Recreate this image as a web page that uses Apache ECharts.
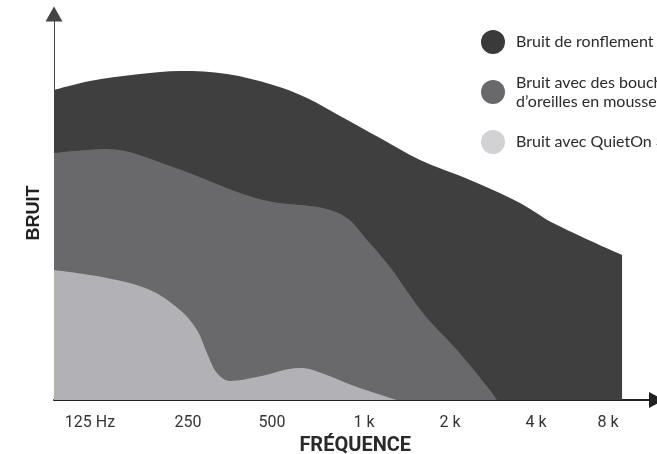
<!DOCTYPE html>
<html><head><meta charset="utf-8">
<script src="https://cdn.jsdelivr.net/npm/echarts@6/dist/echarts.min.js"></script>
<style>html,body{margin:0;padding:0;background:#fff}#c{width:657px;height:454px}</style>
</head><body><div id="c"></div>
<script>
// Frequency tick labels and their positions (octave-ish units, 125 Hz = 0)
const tickLabels = ['125 Hz', '250', '500', '1 k', '2 k', '4 k', '8 k'];
const tickPositions = [0, 1.135, 2.108, 3.174, 4.17, 5.166, 6.0];

const seriesNames = [
  'Bruit de ronflement',
  'Bruit avec des bouchons\nd\u2019oreilles en mousse',
  'Bruit avec QuietOn 3'
];

// [frequency position, noise level]
const ronflement = [
  [-0.417, 310], [0, 319], [0.579, 326], [1.043, 329], [1.587, 326], [2.12, 315],
  [2.514, 302], [2.896, 284], [3.359, 262], [3.823, 240], [4.402, 220], [4.981, 197],
  [5.363, 177], [6.163, 145]
];
const bouchons = [
  [-0.417, 247], [0.197, 251], [0.961, 233], [1.738, 207], [2.12, 198], [2.699, 192],
  [2.977, 182], [3.209, 160], [3.475, 133], [3.857, 87], [4.251, 50], [4.633, 10],
  [4.714, 0]
];
const quieton = [
  [-0.417, 130], [0.197, 122], [0.695, 110], [1.043, 90], [1.239, 70], [1.355, 47],
  [1.471, 27], [1.622, 19], [1.934, 23], [2.433, 32], [2.583, 30], [3.093, 13],
  [3.556, 0]
];

const areaColors = ['#3f3f3f', '#69696b', '#b2b2b6'];
const legendColors = ['#3a3a3a', '#69696c', '#d2d2d4'];

const chart = echarts.init(document.getElementById('c'));
const mk = (name, data, color) => ({
  name, type: 'line', data, smooth: 0.35, showSymbol: false, symbol: 'none',
  lineStyle: { width: 0 }, areaStyle: { color, opacity: 1 }, itemStyle: { color },
  silent: true, animation: false
});
chart.setOption({
  animation: false,
  grid: { left: 54, right: 0.5, top: 14, bottom: 54, containLabel: false, outerBoundsMode: 'none' },
  legend: {
    orient: 'vertical', left: 481, top: 30, padding: 0, itemGap: 19,
    icon: 'circle', itemWidth: 24, itemHeight: 24,
    textStyle: { fontFamily: 'Lato', fontSize: 16, color: '#2b2b2b', lineHeight: 19, padding: [0, 0, 0, 6] },
    data: seriesNames.map((n, i) => ({ name: n, itemStyle: { color: legendColors[i] } })),
    selectedMode: false
  },
  xAxis: {
    type: 'value', min: -0.417, max: 6.562,
    splitLine: { show: false }, axisTick: { show: false },
    axisLine: { onZero: false, lineStyle: { color: '#222', width: 2 }, symbol: ['none', 'triangle'], symbolSize: [16, 15] },
    axisLabel: {
      customValues: tickPositions, margin: 15,
      fontFamily: 'Roboto', fontSize: 16, color: '#333',
      formatter: v => { const i = tickPositions.findIndex(p => Math.abs(p - v) < 1e-6); return i >= 0 ? tickLabels[i] : ''; }
    },
    name: 'FR\u00c9QUENCE', nameLocation: 'middle', nameGap: 36,
    nameTextStyle: { fontFamily: 'Roboto', fontSize: 20, fontWeight: 'bold', color: '#2a2a2a' }
  },
  yAxis: {
    type: 'value', min: 0, max: 386,
    splitLine: { show: false }, axisTick: { show: false }, axisLabel: { show: false },
    axisLine: { onZero: false, lineStyle: { color: '#444', width: 1 }, symbol: ['none', 'triangle'], symbolSize: [17, 15] },
    name: 'BRUIT', nameLocation: 'middle', nameGap: 11,
    nameTextStyle: { fontFamily: 'Liberation Sans', fontSize: 18, fontWeight: 'bold', color: '#222', padding: [0, 12, 0, 0] }
  },
  series: [
    mk(seriesNames[0], ronflement, areaColors[0]),
    mk(seriesNames[1], bouchons, areaColors[1]),
    mk(seriesNames[2], quieton, areaColors[2])
  ]
});
</script></body></html>
